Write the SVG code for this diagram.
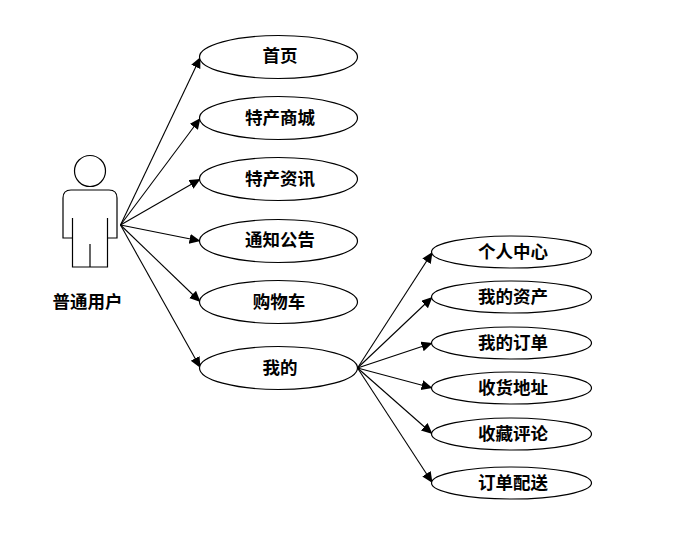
<svg xmlns="http://www.w3.org/2000/svg" width="674" height="534" viewBox="0 0 674 534">
<style>
.n{fill:#fff;stroke:#000;stroke-width:1.2}
.c{fill:none;stroke:#000;stroke-width:1.1;marker-end:url(#a)}
.t{font-family:"Noto Sans CJK SC","Liberation Serif",serif;font-weight:700;font-size:17.5px;text-anchor:middle;fill:#000}
.s{fill:none;stroke:#000;stroke-width:1.2}
</style>
<defs><marker id="a" markerUnits="userSpaceOnUse" markerWidth="13" markerHeight="12" refX="11" refY="5" orient="auto"><path d="M0 0L11 5L0 10Z" fill="#000"/></marker></defs>
<rect width="674" height="534" fill="#fff"/>
<g id="connectors">
<path class="c" d="M120.500 225L200.500 57"/>
<path class="c" d="M120.500 225L200.500 118"/>
<path class="c" d="M120.500 225L200.500 179"/>
<path class="c" d="M120.500 225L200.500 241"/>
<path class="c" d="M120.500 225L200.500 302"/>
<path class="c" d="M120.500 225L200.500 368"/>
<path class="c" d="M357.500 368L432.500 252"/>
<path class="c" d="M357.500 368L432.500 297"/>
<path class="c" d="M357.500 368L432.500 343"/>
<path class="c" d="M357.500 368L432.500 388"/>
<path class="c" d="M357.500 368L432.500 434"/>
<path class="c" d="M357.500 368L432.500 483"/>
</g>
<g id="actor">
<circle class="s" cx="90" cy="171" r="15.500"/>
<path class="s" d="M72.500 238H63V198Q63 190 71 190H109Q117 190 117 198V238H107.500M72.500 218V267H107.500V218M90 244V267"/>
<text class="t" x="87.500" y="308">普通用户</text>
</g>
<g id="n1"><ellipse class="n" cx="278.500" cy="57" rx="79" ry="21.500"/><text class="t" x="280" y="62">首页</text></g>
<g id="n2"><ellipse class="n" cx="278.500" cy="118" rx="79" ry="21.500"/><text class="t" x="280" y="124">特产商城</text></g>
<g id="n3"><ellipse class="n" cx="278.500" cy="179" rx="79" ry="21.500"/><text class="t" x="280" y="185">特产资讯</text></g>
<g id="n4"><ellipse class="n" cx="278.500" cy="241" rx="79" ry="21.500"/><text class="t" x="280" y="246">通知公告</text></g>
<g id="n5"><ellipse class="n" cx="278.500" cy="302" rx="79" ry="21.500"/><text class="t" x="279" y="308">购物车</text></g>
<g id="n6"><ellipse class="n" cx="278.500" cy="368" rx="79" ry="21.500"/><text class="t" x="280" y="374">我的</text></g>
<g id="m1"><ellipse class="n" cx="511.500" cy="252" rx="80" ry="16"/><text class="t" x="513" y="258">个人中心</text></g>
<g id="m2"><ellipse class="n" cx="511.500" cy="297" rx="80" ry="16"/><text class="t" x="513" y="303">我的资产</text></g>
<g id="m3"><ellipse class="n" cx="511.500" cy="343" rx="80" ry="16"/><text class="t" x="513" y="349">我的订单</text></g>
<g id="m4"><ellipse class="n" cx="511.500" cy="388" rx="80" ry="16"/><text class="t" x="513" y="394">收货地址</text></g>
<g id="m5"><ellipse class="n" cx="511.500" cy="434" rx="80" ry="16"/><text class="t" x="513" y="440">收藏评论</text></g>
<g id="m6"><ellipse class="n" cx="511.500" cy="483" rx="80" ry="16"/><text class="t" x="513" y="489">订单配送</text></g>
</svg>
